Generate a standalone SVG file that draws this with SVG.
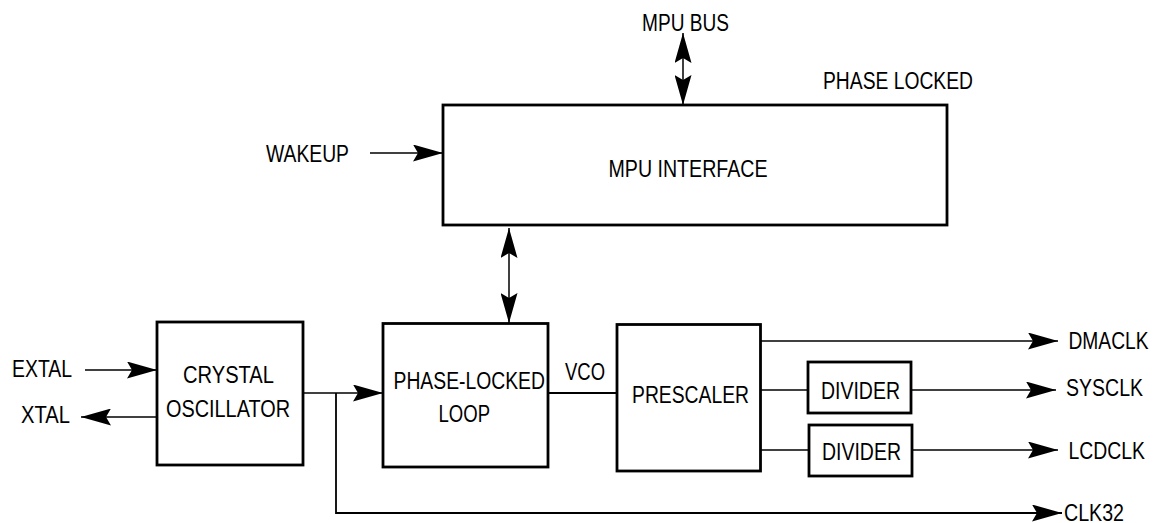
<svg xmlns="http://www.w3.org/2000/svg" width="1156" height="523" viewBox="0 0 1156 523">
<style>
  .box { fill: #fff; stroke: #000; stroke-width: 2.8; }
  .ln { fill: none; stroke: #000; stroke-width: 1.5; }
  .arr { marker-end: url(#ah); }
  .bi { marker-start: url(#ah); marker-end: url(#ah); }
  text { font-family: "Liberation Sans", Arial, sans-serif; font-size: 23px; fill: #000; }
</style>
<defs>
  <marker id="ah" markerUnits="userSpaceOnUse" viewBox="0 -8.5 30 17" refX="30" refY="0" markerWidth="30" markerHeight="17" orient="auto-start-reverse">
    <path d="M0,-8.5 L30,0 L0,8.5 L5,0 Z" fill="#000"/>
  </marker>
</defs>
<rect width="1156" height="523" fill="#fff"/>
<g id="connectors">
  <line class="ln arr" x1="370" y1="153" x2="443" y2="153"/>
  <line class="ln bi" x1="683" y1="33" x2="683" y2="105"/>
  <line class="ln bi" x1="509" y1="228" x2="509" y2="323"/>
  <line class="ln arr" x1="85" y1="370" x2="157" y2="370"/>
  <line class="ln arr" x1="157" y1="417" x2="81" y2="417"/>
  <line class="ln arr" x1="303" y1="393" x2="383" y2="393"/>
  <polyline class="ln arr" points="336,393 336,513 1062,513" style="stroke-width:1.8"/>
  <line class="ln" x1="548" y1="393" x2="617" y2="393" style="stroke-width:2"/>
  <line class="ln arr" x1="760" y1="341" x2="1058" y2="341"/>
  <line class="ln" x1="760" y1="390" x2="808" y2="390"/>
  <line class="ln arr" x1="911" y1="390" x2="1056" y2="390"/>
  <line class="ln" x1="760" y1="450" x2="809" y2="450"/>
  <line class="ln arr" x1="912" y1="450" x2="1058" y2="450"/>
</g>
<g id="mpu-interface">
  <rect class="box" x="443" y="105" width="504" height="120"/>
  <text transform="translate(608.5,177) scale(0.87,1)" textLength="182.8" lengthAdjust="spacingAndGlyphs">MPU INTERFACE</text>
</g>
<g id="crystal-oscillator">
  <rect class="box" x="157" y="322" width="146" height="143"/>
  <text transform="translate(183,383) scale(0.87,1)" textLength="104.6" lengthAdjust="spacingAndGlyphs">CRYSTAL</text>
  <text transform="translate(166,416.5) scale(0.87,1)" textLength="142.5" lengthAdjust="spacingAndGlyphs">OSCILLATOR</text>
</g>
<g id="pll">
  <rect class="box" x="383" y="323.5" width="165" height="143.5"/>
  <text transform="translate(393.5,389) scale(0.87,1)" textLength="174.1" lengthAdjust="spacingAndGlyphs">PHASE-LOCKED</text>
  <text transform="translate(438.5,422) scale(0.87,1)" textLength="59.2" lengthAdjust="spacingAndGlyphs">LOOP</text>
</g>
<g id="prescaler">
  <rect class="box" x="617" y="324.5" width="143.5" height="146.5"/>
  <text transform="translate(632,403) scale(0.87,1)" textLength="134.5" lengthAdjust="spacingAndGlyphs">PRESCALER</text>
</g>
<g id="divider1">
  <rect class="box" x="808" y="362" width="103" height="51"/>
  <text transform="translate(821,399) scale(0.87,1)" textLength="90.8" lengthAdjust="spacingAndGlyphs">DIVIDER</text>
</g>
<g id="divider2">
  <rect class="box" x="809" y="425" width="103" height="51"/>
  <text transform="translate(822,460) scale(0.87,1)" textLength="90.8" lengthAdjust="spacingAndGlyphs">DIVIDER</text>
</g>
<g id="labels">
  <text transform="translate(642,31) scale(0.87,1)" textLength="100" lengthAdjust="spacingAndGlyphs">MPU BUS</text>
  <text transform="translate(823,89) scale(0.87,1)" textLength="172.4" lengthAdjust="spacingAndGlyphs">PHASE LOCKED</text>
  <text transform="translate(266,161.5) scale(0.87,1)" textLength="95.4" lengthAdjust="spacingAndGlyphs">WAKEUP</text>
  <text transform="translate(12,377) scale(0.87,1)" textLength="69" lengthAdjust="spacingAndGlyphs">EXTAL</text>
  <text transform="translate(21,423) scale(0.87,1)" textLength="56.3" lengthAdjust="spacingAndGlyphs">XTAL</text>
  <text transform="translate(565,380) scale(0.87,1)" textLength="46" lengthAdjust="spacingAndGlyphs">VCO</text>
  <text transform="translate(1068.5,349) scale(0.87,1)" textLength="92" lengthAdjust="spacingAndGlyphs">DMACLK</text>
  <text transform="translate(1066,395.5) scale(0.87,1)" textLength="88.5" lengthAdjust="spacingAndGlyphs">SYSCLK</text>
  <text transform="translate(1068.5,459) scale(0.87,1)" textLength="87.9" lengthAdjust="spacingAndGlyphs">LCDCLK</text>
  <text transform="translate(1064,520.5) scale(0.87,1)" textLength="69" lengthAdjust="spacingAndGlyphs">CLK32</text>
</g>
</svg>
